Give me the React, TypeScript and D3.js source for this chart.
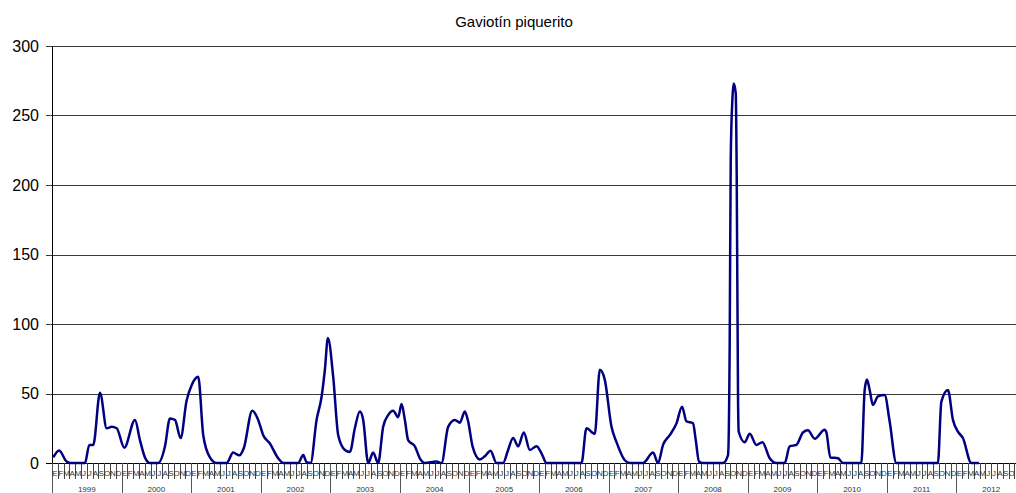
import React from "react";
import * as d3 from "d3";

const title = "Gaviotín piquerito";
const monthLabels = ["E", "F", "M", "A", "M", "J", "J", "A", "S", "O", "N", "D"];
const years = [1999, 2000, 2001, 2002, 2003, 2004, 2005, 2006, 2007, 2008, 2009, 2010, 2011, 2012];
const yTicks = [0, 50, 100, 150, 200, 250, 300];

// time in years since Jan 1999
const time = [
  0.019, 0.101, 0.211, 0.259, 0.359, 0.474, 0.536, 0.593, 0.69, 0.786, 0.858, 0.93,
  1.039, 1.193, 1.264, 1.336, 1.408, 1.527, 1.624, 1.695, 1.767, 1.849, 1.935,
  2.007, 2.102, 2.174, 2.27, 2.366, 2.51, 2.605, 2.691, 2.759, 2.878, 2.964,
  3.036, 3.132, 3.251, 3.323, 3.539, 3.611, 3.659, 3.717, 3.803, 3.875, 3.922, 3.966,
  4.042, 4.114, 4.21, 4.282, 4.353, 4.425, 4.473, 4.545, 4.616, 4.688, 4.76, 4.832, 4.904, 4.976,
  5.024, 5.072, 5.119, 5.216, 5.287, 5.359, 5.527, 5.599, 5.694, 5.79, 5.862, 5.934, 5.981,
  6.045, 6.149, 6.221, 6.303, 6.389, 6.484, 6.556, 6.628, 6.7, 6.782, 6.868, 6.964,
  7.036, 7.108, 7.611, 7.682, 7.802, 7.874, 7.945,
  8.042, 8.114, 8.233, 8.305, 8.496, 8.64, 8.711, 8.783, 8.879, 8.976,
  9.056, 9.119, 9.214, 9.253, 9.3, 9.358, 9.645, 9.717, 9.741, 9.756, 9.78, 9.799, 9.828, 9.842, 9.861, 9.871, 9.957,
  10.029, 10.125, 10.211, 10.316, 10.412, 10.532, 10.603, 10.7, 10.794, 10.866, 10.963,
  11.106, 11.131, 11.188, 11.297, 11.369, 11.633, 11.681, 11.714, 11.753, 11.8, 11.872, 11.968,
  12.04, 12.136, 12.734, 12.783, 12.878, 12.95,
  13.022, 13.093, 13.214, 13.323,
];

const counts = [
  4, 9, 1, 0, 0, 0, 13, 13, 50.6, 25, 26, 25,
  11, 31, 16.5, 4, 0, 0, 12, 32, 31, 18, 45,
  56, 62, 20, 4, 0, 0, 7.5, 5.5, 11, 37.6, 31,
  20, 14, 3.4, 0, 0, 5.7, 0.5, 0, 31, 47.7, 67, 90,
  62, 20, 9.4, 8, 25, 37, 31, 0, 7.5, 0, 26, 34.5, 37.6, 33,
  42.4, 31, 16.5, 12, 3.4, 0, 1, 0, 26, 31, 29, 37, 30,
  12, 2.6, 4.8, 8.8, 0, 0, 9.4, 18, 12, 22, 9.4, 12,
  7, 0, 0, 25, 21, 67, 60,
  26, 15, 2, 0, 0, 7.5, 0, 13, 20, 28.5,
  40.5, 30, 28.5, 16.5, 1, 0, 0, 5.7, 86, 219, 262, 273, 266, 206, 45, 22.5, 15,
  21, 13, 15, 3.4, 0, 0, 12, 13, 22, 23.5, 17.5,
  24, 22, 4, 3.4, 0, 0, 52.5, 60, 52.5, 41.7, 48, 49,
  30, 0, 0, 44, 52.5, 31,
  22.5, 18, 0, 0,
];

const W = 1016;
const H = 493;
const font = "'Liberation Sans', Arial, sans-serif";

export default function App() {
  const x = d3.scaleLinear().domain([0, 14]).range([52, 1026]);
  const y = d3.scaleLinear().domain([0, 300]).range([463, 46]);
  const data = time.map((t, i) => [t, counts[i]] as [number, number]);
  const line = d3
    .line<[number, number]>()
    .x((d) => x(d[0]))
    .y((d) => y(d[1]))
    .curve(d3.curveMonotoneX);

  const months = d3.range(0, 14 * 12 + 1);

  return (
    <svg
      width={W}
      height={H}
      style={{ position: "absolute", left: 0, top: 0, background: "#fff" }}
      fontFamily={font}
    >
      <rect x={0} y={0} width={W} height={H} fill="#fff" />
      <text x={514} y={27} textAnchor="middle" fontSize={15} fill="#000">
        {title}
      </text>
      {/* grid lines */}
      {yTicks.map((v) => (
        <g key={v}>
          <line
            x1={46}
            x2={W}
            y1={Math.round(y(v)) + 0.5}
            y2={Math.round(y(v)) + 0.5}
            stroke={v === 0 ? "#000" : "#3a3a3a"}
            strokeWidth={1}
          />
          <text
            x={39}
            y={y(v) + 5.5}
            textAnchor="end"
            fontSize={16}
            fill="#000"
          >
            {v}
          </text>
        </g>
      ))}
      {/* y axis */}
      <line x1={52.5} x2={52.5} y1={y(300)} y2={y(0)} stroke="#000" strokeWidth={1} />
      {/* month ticks */}
      {months.map((m) => {
        const xx = Math.round(x(m / 12)) + 0.5;
        const isYear = m % 12 === 0;
        return (
          <line
            key={"t" + m}
            x1={xx}
            x2={xx}
            y1={463}
            y2={isYear ? H : 479}
            stroke={isYear ? "#555" : "#444"}
            strokeWidth={1}
          />
        );
      })}
      {/* month labels */}
      {months
        .slice(0, -1)
        .filter((m) => x((m + 0.5) / 12) < W - 4)
        .map((m) => (
          <text
            key={"m" + m}
            x={x((m + 0.5) / 12)}
            y={476}
            textAnchor="middle"
            fontSize={8}
            fill="#333"
          >
            {monthLabels[m % 12]}
          </text>
        ))}
      {/* year labels */}
      {years.map((yr, i) => (
        <text
          key={yr}
          x={x(i + 0.5)}
          y={492}
          textAnchor="middle"
          fontSize={8}
          fill="#333"
        >
          {yr}
        </text>
      ))}
      <path
        d={line(data) || ""}
        fill="none"
        stroke="#000080"
        strokeWidth={2.5}
        strokeLinejoin="round"
      />
    </svg>
  );
}
